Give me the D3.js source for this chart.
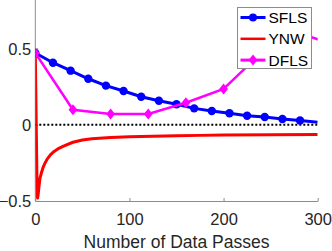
<!DOCTYPE html>
<html>
<head>
<meta charset="utf-8">
<script src="https://cdn.jsdelivr.net/npm/d3@7"></script>
<style>
  body { margin: 0; background: #fff; }
  svg { display: block; font-family: "Liberation Sans", Arial, sans-serif; }
</style>
</head>
<body>
<svg width="332" height="251"></svg>
<script>
// data
const sflsX = [0, 18.75, 37.5, 56.25, 75, 93.75, 112.5, 131.25, 150, 168.75, 187.5, 206.25, 225, 243.75, 262.5, 281.25, 300];
const sflsY = [0.47, 0.406, 0.354, 0.301, 0.256, 0.221, 0.183, 0.157, 0.134, 0.107, 0.09, 0.075, 0.059, 0.05, 0.037, 0.027, 0.016];

const ynwX = [0, 1, 2, 2.5, 3, 4, 5, 6.5, 8, 10, 13, 16, 20, 25, 30, 40, 50, 60, 80, 100, 125, 150, 175, 200, 250, 300];
const ynwY = [0.47, 0.0, -0.47, -0.48, -0.46, -0.4, -0.35, -0.315, -0.285, -0.255, -0.222, -0.198, -0.175, -0.155, -0.14, -0.115, -0.1, -0.092, -0.084, -0.079, -0.075, -0.072, -0.07, -0.068, -0.066, -0.065];

const dflsX = [0, 40, 80, 120, 160, 200, 240, 280, 320];
const dflsY = [0.47, 0.098, 0.07, 0.07, 0.144, 0.234, 0.47, 0.6, 0.52];

const xTicks = [0, 100, 200, 300];
const yTicks = [-0.5, 0, 0.5];
const seriesNames = ['SFLS', 'YNW', 'DFLS'];
const seriesColors = ['#0000ff', '#ff0000', '#ff00ff'];

const svg = d3.select('svg');
const x = d3.scaleLinear().domain([0, 300]).range([35.3, 317.7]);
const y = d3.scaleLinear().domain([-0.5, 0.8]).range([201, 2.6]);

const axisColor = '#8c8c8c';
const textColor = '#262626';

svg.append('defs').append('clipPath').attr('id', 'plot')
  .append('rect')
  .attr('x', x(0)).attr('y', 0)
  .attr('width', x(300) - x(0)).attr('height', y(-0.5));

// axes
const xAxis = svg.append('g')
  .attr('transform', `translate(0,${y(-0.5)})`)
  .call(d3.axisBottom(x).tickValues(xTicks).tickSize(-3).tickPadding(12).tickSizeOuter(0));
const yAxis = svg.append('g')
  .attr('transform', `translate(${x(0)},0)`)
  .call(d3.axisLeft(y).tickValues(yTicks).tickSize(-3).tickPadding(4).tickFormat(d3.format('')).tickSizeOuter(0));
yAxis.select('.domain').attr('d', `M0,0V${y(-0.5)}`);

[xAxis, yAxis].forEach(a => {
  a.select('.domain').attr('stroke', axisColor);
  a.selectAll('.tick line').attr('stroke', axisColor);
  a.selectAll('.tick text').attr('fill', textColor).style('font-size', '16.5px');
});
yAxis.selectAll('.tick text').attr('dy', '0.35em');
xAxis.selectAll('.tick text').attr('dy', '0.71em');

svg.append('text')
  .attr('x', x(150)).attr('y', 248)
  .attr('text-anchor', 'middle')
  .attr('fill', textColor)
  .style('font-size', '17.5px')
  .text('Number of Data Passes');

const plot = svg.append('g').attr('clip-path', 'url(#plot)');

// zero reference
plot.append('line')
  .attr('x1', x(0)).attr('x2', x(300))
  .attr('y1', y(0)).attr('y2', y(0))
  .attr('stroke', '#000').attr('stroke-width', 2)
  .attr('stroke-dasharray', '2,2');

const line = d3.line().x(d => x(d[0])).y(d => y(d[1]));

const sfls = sflsX.map((v, i) => [v, sflsY[i]]);
const ynw = ynwX.map((v, i) => [v, ynwY[i]]);
const dfls = dflsX.map((v, i) => [v, dflsY[i]]);

plot.append('path').datum(ynw).attr('d', line)
  .attr('fill', 'none').attr('stroke', seriesColors[1]).attr('stroke-width', 3)
  .attr('stroke-linejoin', 'round');

plot.append('path').datum(sfls).attr('d', line)
  .attr('fill', 'none').attr('stroke', seriesColors[0]).attr('stroke-width', 3);
plot.selectAll('circle.sfls').data(sfls.slice(0, -1)).enter()
  .append('circle').attr('class', 'sfls')
  .attr('cx', d => x(d[0])).attr('cy', d => y(d[1])).attr('r', 4.2)
  .attr('fill', seriesColors[0]);

const diamond = (cx, cy, s) => `M${cx},${cy - s}L${cx + s * 0.8},${cy}L${cx},${cy + s}L${cx - s * 0.8},${cy}Z`;

plot.append('path').datum(dfls).attr('d', line)
  .attr('fill', 'none').attr('stroke', seriesColors[2]).attr('stroke-width', 2.5);
plot.selectAll('path.dfls').data(dfls).enter()
  .append('path').attr('class', 'dfls')
  .attr('d', d => diamond(x(d[0]), y(d[1]), 5.5))
  .attr('fill', seriesColors[2]);

// legend
const lg = svg.append('g').attr('transform', 'translate(237.5,7.5)');
lg.append('rect').attr('width', 74).attr('height', 61)
  .attr('fill', '#fff').attr('stroke', axisColor).attr('stroke-width', 1);
seriesNames.forEach((name, i) => {
  const cy = 10 + i * 21.3;
  const row = lg.append('g');
  row.append('line').attr('x1', 3).attr('x2', 28).attr('y1', cy).attr('y2', cy)
    .attr('stroke', seriesColors[i]).attr('stroke-width', i === 1 ? 2.5 : 3);
  if (i === 0) row.append('circle').attr('cx', 15.5).attr('cy', cy).attr('r', 4).attr('fill', seriesColors[i]);
  if (i === 2) row.append('path').attr('d', diamond(15.5, cy, 5.5)).attr('fill', seriesColors[i]);
  row.append('text').attr('x', 31).attr('y', cy).attr('dy', '0.36em')
    .attr('fill', '#000').style('font-size', '15.5px').text(name);
});
</script>
</body>
</html>
